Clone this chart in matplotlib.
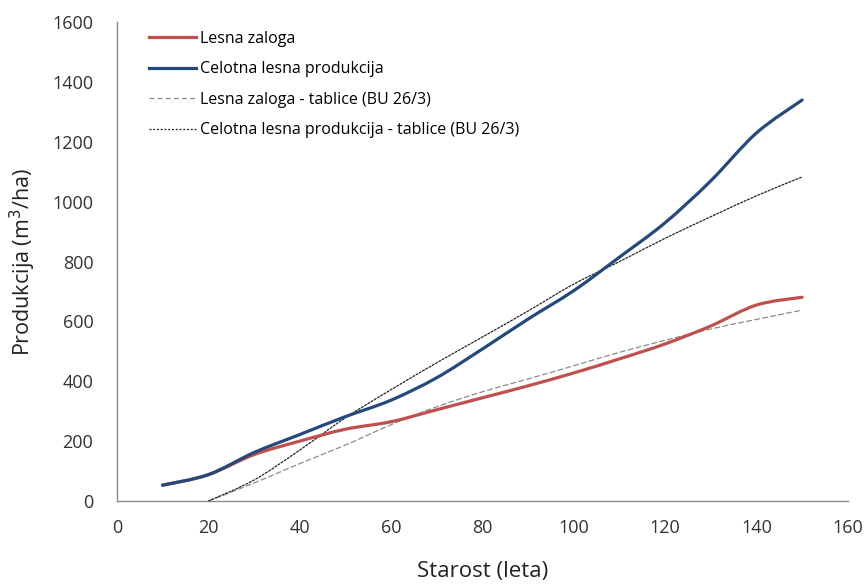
import matplotlib.pyplot as plt
import numpy as np
from matplotlib.path import Path
from matplotlib.patches import PathPatch
from matplotlib.lines import Line2D

plt.rcParams['font.family'] = ['Open Sans', 'DejaVu Sans']

# data
age = [10, 20, 30, 40, 50, 60, 70, 80, 90, 100, 110, 120, 130, 140, 150]
zaloga = [53, 88, 155, 200, 240, 265, 305, 345, 385, 428, 475, 525, 585, 655, 681]
celotna = [53, 88, 162, 222, 282, 337, 412, 508, 608, 703, 815, 930, 1070, 1230, 1340]

age_tab = [20, 30, 40, 50, 60, 70, 80, 90, 100, 110, 120, 130, 140, 150]
zaloga_tab = [0, 60, 125, 187, 255, 315, 365, 408, 452, 497, 537, 575, 607, 638]
celotna_tab = [0, 70, 170, 278, 372, 462, 548, 635, 725, 800, 878, 950, 1020, 1083]

labels = ["Lesna zaloga", "Celotna lesna produkcija",
          "Lesna zaloga - tablice (BU 26/3)",
          "Celotna lesna produkcija - tablice (BU 26/3)"]

RED = "#C0504D"
BLUE = "#24497C"


def smooth_path(x, y):
    # Excel-like smoothed line: cubic Bezier segments through the points
    x = np.asarray(x, float)
    y = np.asarray(y, float)
    px = np.concatenate([[x[0]], x, [x[-1]]])
    py = np.concatenate([[y[0]], y, [y[-1]]])
    verts = [(x[0], y[0])]
    codes = [Path.MOVETO]
    for i in range(1, len(px) - 2):
        c1 = (px[i] + (px[i + 1] - px[i - 1]) / 6, py[i] + (py[i + 1] - py[i - 1]) / 6)
        c2 = (px[i + 1] - (px[i + 2] - px[i]) / 6, py[i + 1] - (py[i + 2] - py[i]) / 6)
        verts += [c1, c2, (px[i + 1], py[i + 1])]
        codes += [Path.CURVE4] * 3
    return Path(verts, codes)


fig = plt.figure(figsize=(8.66, 5.86), dpi=100)
ax = fig.add_axes([0.135, 0.145, 0.844, 0.817])

styles = [
    dict(color=RED, lw=2.3, linestyle='-'),
    dict(color=BLUE, lw=2.3, linestyle='-'),
    dict(color="#8C8C8C", lw=0.9, linestyle=(0, (4, 2.5))),
    dict(color="#222222", lw=0.9, linestyle=(0, (1.6, 1.4))),
]
series = [(age, zaloga), (age, celotna), (age_tab, zaloga_tab), (age_tab, celotna_tab)]

for i in [2, 3, 0, 1]:
    x, y = series[i]
    st = styles[i]
    patch = PathPatch(smooth_path(x, y), fill=False, edgecolor=st['color'],
                      lw=st['lw'], linestyle=st['linestyle'], capstyle='round',
                      zorder=3 + (i < 2))
    ax.add_patch(patch)

handles = [Line2D([], [], **st) for st in styles]
ax.legend(handles, labels, loc='upper left', bbox_to_anchor=(0.028, 1.005),
          frameon=False, fontsize=11.5, handlelength=2.95, handletextpad=0.3,
          labelspacing=0.9, borderaxespad=0.3)

ax.set_xlim(0, 160)
ax.set_ylim(0, 1600)
ax.set_xticks(range(0, 161, 20))
ax.set_yticks(range(0, 1601, 200))
ax.tick_params(length=0, labelsize=13, colors="#333333", pad=13)
ax.tick_params(axis='y', pad=17)
for s in ['top', 'right']:
    ax.spines[s].set_visible(False)
for s in ['left', 'bottom']:
    ax.spines[s].set_color("#8C8C8C")
    ax.spines[s].set_linewidth(1.0)

ax.set_xlabel("Starost (leta)", fontsize=16, labelpad=17, color="#222222")
ax.set_ylabel("Produkcija (m$^3$/ha)", fontsize=15.5, labelpad=10, color="#222222")

fig.savefig("out.png", dpi=100, facecolor="white")
